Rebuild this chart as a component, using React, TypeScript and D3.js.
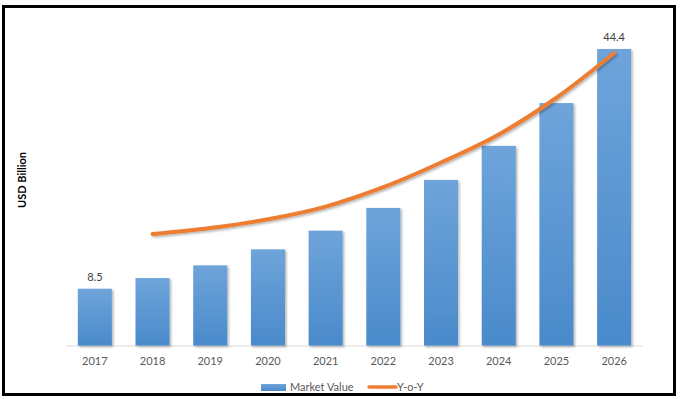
import React from "react";
import * as d3 from "d3";

const years = ["2017", "2018", "2019", "2020", "2021", "2022", "2023", "2024", "2025", "2026"];
const marketValue = [8.5, 10.1, 12.0, 14.4, 17.2, 20.6, 24.8, 29.9, 36.3, 44.4];
const yoyYears = ["2018", "2019", "2020", "2021", "2022", "2023", "2024", "2025", "2026"];
const yoyValue = [16.7, 17.6, 18.9, 20.8, 23.7, 27.4, 31.6, 37.1, 43.8];
const labelledYears = ["2017", "2026"];
const seriesNames = ["Market Value", "Y-o-Y"];
const yAxisTitle = "USD Billion";

const W = 680;
const H = 399;
const FONT = "Lato, 'Open Sans', sans-serif";

export default function App() {
  const x = d3.scaleBand<string>().domain(years).range([66, 643]).paddingInner(0.41).paddingOuter(0.205);
  const y = d3.scaleLinear().domain([0, 44.4]).range([345.5, 49]);
  const y2 = d3.scaleLinear().domain([0, 44.4]).range([345.5, 49]);
  const cx = (yr: string) => (x(yr) as number) + x.bandwidth() / 2;

  const line = d3
    .line<number>()
    .x((_, i) => cx(yoyYears[i]))
    .y((d) => y2(d))
    .curve(d3.curveCatmullRom.alpha(0.5));

  return (
    <div style={{ position: "fixed", left: 0, top: 0 }}>
      <svg width={W} height={H} style={{ display: "block" }}>
        <defs>
          <linearGradient id="barGrad" x1="0" y1="0" x2="0" y2="1">
            <stop offset="0%" stopColor="#6ea4da" />
            <stop offset="100%" stopColor="#4a8acb" />
          </linearGradient>
          <filter id="shadow" x="-20%" y="-20%" width="140%" height="140%">
            <feDropShadow dx="1.5" dy="1.5" stdDeviation="1.2" floodColor="#000" floodOpacity="0.3" />
          </filter>
        </defs>
        <rect x={0} y={0} width={W} height={H} fill="#fff" />
        <rect x={3.5} y={6.5} width={671} height={388} fill="#fff" stroke="#000" strokeWidth={3} />

        <line x1={66} x2={643} y1={346} y2={346} stroke="#d9d9d9" strokeWidth={1} />

        {years.map((yr, i) => (
          <rect
            key={yr}
            x={x(yr)}
            y={y(marketValue[i])}
            width={x.bandwidth()}
            height={y(0) - y(marketValue[i])}
            fill="url(#barGrad)"
            filter="url(#shadow)"
          />
        ))}

        {years.map((yr, i) =>
          labelledYears.includes(yr) ? (
            <text
              key={"l" + yr}
              x={cx(yr)}
              y={y(marketValue[i]) - 8}
              textAnchor="middle"
              fontFamily={FONT}
              fontSize={11}
              fill="#404040"
            >
              {marketValue[i]}
            </text>
          ) : null
        )}

        <path
          d={line(yoyValue) || ""}
          fill="none"
          stroke="#ed7d31"
          strokeWidth={4}
          strokeLinecap="round"
          strokeLinejoin="round"
          filter="url(#shadow)"
        />

        {years.map((yr) => (
          <text key={"t" + yr} x={cx(yr)} y={364.5} textAnchor="middle" fontFamily={FONT} fontSize={11} fill="#595959">
            {yr}
          </text>
        ))}

        <text
          transform="translate(26,180) rotate(-90)"
          textAnchor="middle"
          fontFamily={FONT}
          fontSize={11}
          fontWeight="bold"
          fill="#000"
        >
          {yAxisTitle}
        </text>

        <rect x={261} y={384} width={25} height={7} fill="url(#barGrad)" />
        <text x={290} y={391} fontFamily={FONT} fontSize={11} fill="#595959">
          {seriesNames[0]}
        </text>
        <line x1={369} x2={396} y1={387} y2={387} stroke="#ed7d31" strokeWidth={3.5} strokeLinecap="round" />
        <text x={397} y={391} fontFamily={FONT} fontSize={11} fill="#595959">
          {seriesNames[1]}
        </text>
      </svg>
    </div>
  );
}
